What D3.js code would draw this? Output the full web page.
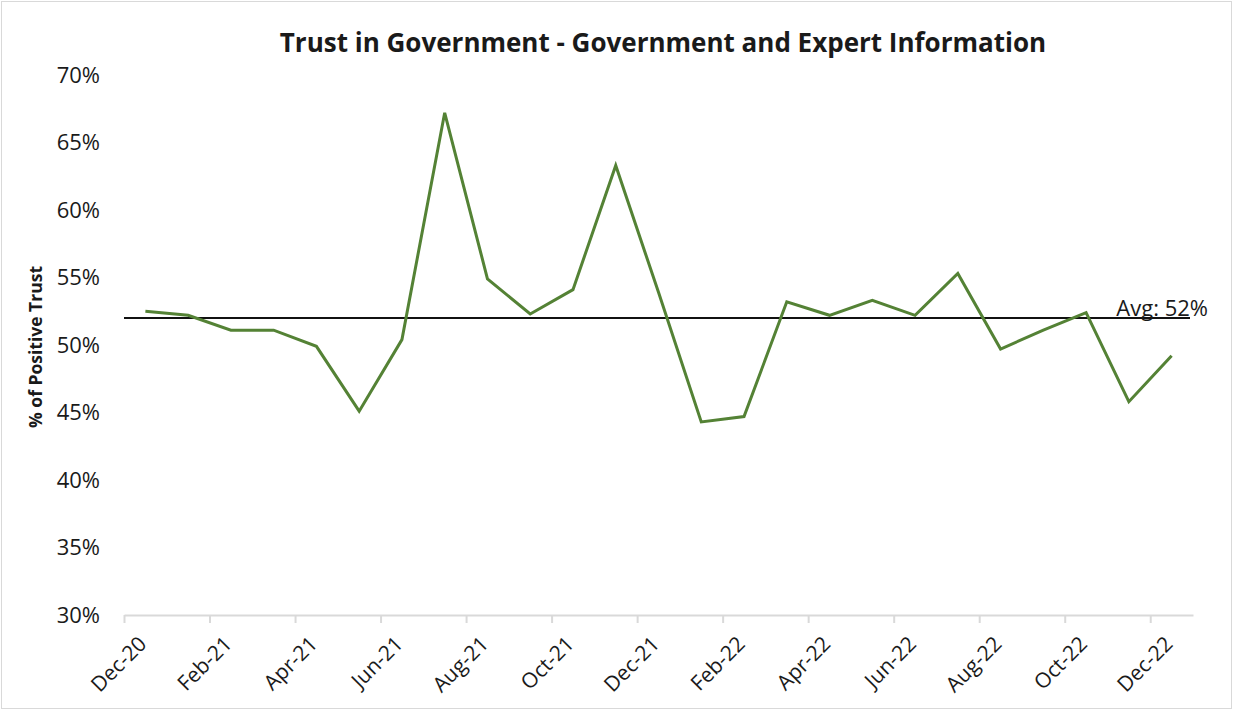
<!DOCTYPE html>
<html>
<head>
<meta charset="utf-8">
<script src="https://cdn.jsdelivr.net/npm/d3@7"></script>
<style>
  html, body { margin: 0; padding: 0; background: #fff; }
  svg { display: block; }
  text { font-family: "Open Sans", "Liberation Sans", sans-serif; fill: #1a1a1a; }
</style>
</head>
<body>
<svg id="chart" width="1233" height="710"></svg>
<script>
// Monthly survey periods, Dec 2020 – Dec 2022
const months = [
  "Dec-20", "Jan-21", "Feb-21", "Mar-21", "Apr-21", "May-21", "Jun-21",
  "Jul-21", "Aug-21", "Sep-21", "Oct-21", "Nov-21", "Dec-21",
  "Jan-22", "Feb-22", "Mar-22", "Apr-22", "May-22", "Jun-22",
  "Jul-22", "Aug-22", "Sep-22", "Oct-22", "Nov-22", "Dec-22"
];

// Share of respondents with positive trust (fraction)
const trustValues = [
  0.525, 0.522, 0.511, 0.511, 0.499, 0.451, 0.504,
  0.672, 0.549, 0.523, 0.541, 0.633, 0.539,
  0.443, 0.447, 0.532, 0.522, 0.533, 0.522,
  0.553, 0.497, 0.511, 0.524, 0.458, 0.492
];

// Average across the whole period
const averageValue = 0.52;
const averageLabel = "Avg: 52%";

// Axis tick values
const yTicks = [0.30, 0.35, 0.40, 0.45, 0.50, 0.55, 0.60, 0.65, 0.70];
const xTickIndex = [0, 2, 4, 6, 8, 10, 12, 14, 16, 18, 20, 22, 24];

const titleText = "Trust in Government - Government and Expert Information";
const yTitleText = "% of Positive Trust";

const W = 1233, H = 710;
const plot = { left: 124, right: 1193, top: 75, bottom: 615 };

const svg = d3.select("#chart");

// outer chart frame
svg.append("rect")
  .attr("x", 1.5).attr("y", 1.5)
  .attr("width", W - 3).attr("height", H - 3)
  .attr("fill", "#fff")
  .attr("stroke", "#d9d9d9")
  .attr("stroke-width", 1);

// each month occupies one slot; values sit at the slot centre
const x = d3.scaleLinear().domain([0, months.length]).range([plot.left, plot.right]);
const y = d3.scaleLinear().domain([0.30, 0.70]).range([plot.bottom, plot.top]);

// y axis: labels only
const yAxis = svg.append("g")
  .attr("transform", `translate(${plot.left},0)`)
  .call(d3.axisLeft(y).tickValues(yTicks).tickFormat(d3.format(".0%")).tickSize(0).tickPadding(24));
yAxis.select(".domain").remove();
yAxis.selectAll("text")
  .style("font-family", "'Open Sans', sans-serif")
  .style("font-size", "22px")
  .attr("fill", "#1a1a1a");

// x axis: light line with ticks at slot boundaries, rotated labels
const xAxis = svg.append("g")
  .attr("transform", `translate(0,${plot.bottom})`)
  .call(d3.axisBottom(x).tickValues(xTickIndex).tickFormat(i => months[i]).tickSize(8).tickSizeOuter(0));
xAxis.select(".domain").attr("stroke", "#d9d9d9").attr("stroke-width", 2);
xAxis.selectAll(".tick line").attr("stroke", "#d9d9d9").attr("stroke-width", 2);
xAxis.selectAll("text")
  .style("font-family", "'Open Sans', sans-serif")
  .style("font-size", "21px")
  .attr("fill", "#1a1a1a")
  .attr("text-anchor", "end")
  .attr("y", 0).attr("dy", "0.35em")
  .attr("transform", "translate(18,25) rotate(-45)");

// average reference line
svg.append("line")
  .attr("x1", x(0)).attr("x2", x(months.length) - 3)
  .attr("y1", y(averageValue)).attr("y2", y(averageValue))
  .attr("stroke", "#111")
  .attr("stroke-width", 2);

// trust series
const line = d3.line()
  .x((d, i) => x(i + 0.5))
  .y(d => y(d));

svg.append("path")
  .datum(trustValues)
  .attr("d", line)
  .attr("fill", "none")
  .attr("stroke", "#548235")
  .attr("stroke-width", 3)
  .attr("stroke-linejoin", "miter");

// average label
svg.append("text")
  .attr("x", 1208)
  .attr("y", y(averageValue) - 2)
  .attr("text-anchor", "end")
  .style("font-size", "22px")
  .text(averageLabel);

// chart title
svg.append("text")
  .attr("x", 663)
  .attr("y", 52)
  .attr("text-anchor", "middle")
  .style("font-size", "26px")
  .style("font-weight", "bold")
  .text(titleText);

// y axis title
svg.append("text")
  .attr("transform", `translate(42,${(plot.top + plot.bottom) / 2 + 2}) rotate(-90)`)
  .attr("text-anchor", "middle")
  .style("font-size", "17.5px")
  .style("font-weight", "bold")
  .text(yTitleText);
</script>
</body>
</html>
